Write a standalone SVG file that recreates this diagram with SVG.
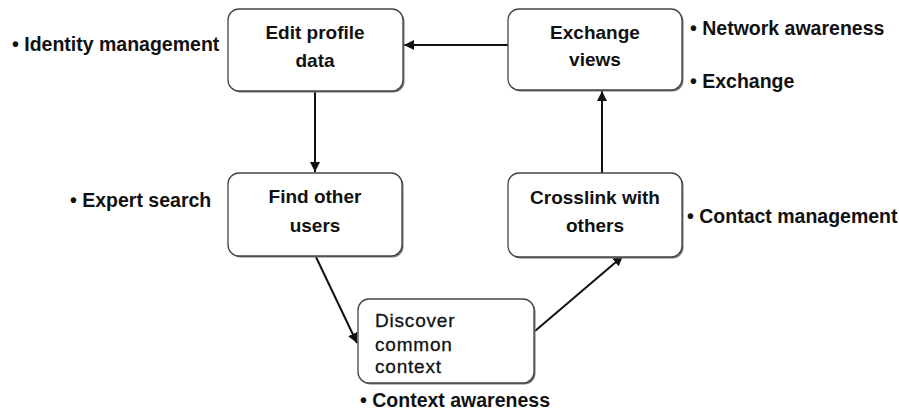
<svg xmlns="http://www.w3.org/2000/svg" width="899" height="412" viewBox="0 0 899 412">
<defs>
<style>
.box{fill:#fff;stroke:#444;stroke-width:1.3}
.shadow{fill:#777}
.lbl{font-family:"Liberation Sans",Arial,sans-serif;font-weight:bold;font-size:19px;fill:#111;text-anchor:middle}
.lbl2{font-family:"Liberation Sans",Arial,sans-serif;font-size:19px;fill:#111;stroke:#111;stroke-width:0.3;letter-spacing:0.8px}
.side{font-family:"Liberation Sans",Arial,sans-serif;font-weight:bold;font-size:19.5px;fill:#111}
.conn{stroke:#111;stroke-width:2;fill:none;marker-end:url(#ah)}
</style>
<marker id="ah" viewBox="0 0 10 10" refX="10" refY="5" markerWidth="5" markerHeight="5" orient="auto" markerUnits="strokeWidth">
<path d="M0,0 L10,5 L0,10 z" fill="#111"/>
</marker>
</defs>
<rect width="899" height="412" fill="#fff"/>
<g id="connectors">
<line class="conn" x1="508" y1="45" x2="404" y2="45"/>
<line class="conn" x1="315" y1="92" x2="315" y2="172"/>
<line class="conn" x1="602" y1="173" x2="602" y2="91"/>
<line class="conn" x1="316" y1="257" x2="357" y2="343"/>
<line class="conn" x1="535" y1="331" x2="623" y2="256"/>
</g>
<g id="edit-profile">
<rect class="shadow" x="229.5" y="10.5" width="175" height="82" rx="11"/>
<rect class="box" x="228" y="9" width="175" height="82" rx="11"/>
<text class="lbl" x="315" y="39">Edit profile</text>
<text class="lbl" x="315" y="67">data</text>
</g>
<g id="exchange-views">
<rect class="shadow" x="509.5" y="10.5" width="174" height="81" rx="11"/>
<rect class="box" x="508" y="9" width="174" height="81" rx="11"/>
<text class="lbl" x="595" y="39">Exchange</text>
<text class="lbl" x="595" y="66">views</text>
</g>
<g id="find-users">
<rect class="shadow" x="229.5" y="174.5" width="174" height="83" rx="11"/>
<rect class="box" x="228" y="173" width="174" height="83" rx="11"/>
<text class="lbl" x="315" y="203">Find other</text>
<text class="lbl" x="315" y="232">users</text>
</g>
<g id="crosslink">
<rect class="shadow" x="509.5" y="174.5" width="174" height="84" rx="11"/>
<rect class="box" x="508" y="173" width="174" height="84" rx="11"/>
<text class="lbl" x="595" y="204">Crosslink with</text>
<text class="lbl" x="595" y="232">others</text>
</g>
<g id="discover">
<rect class="shadow" x="359.5" y="300.5" width="176" height="84" rx="11"/>
<rect class="box" x="358" y="299" width="176" height="84" rx="11"/>
<text class="lbl2" x="375" y="327">Discover</text>
<text class="lbl2" x="375" y="351">common</text>
<text class="lbl2" x="375" y="373">context</text>
</g>
<g id="labels">
<text class="side" x="12" y="51">• Identity management</text>
<text class="side" x="690" y="35">• Network awareness</text>
<text class="side" x="690" y="88">• Exchange</text>
<text class="side" x="70" y="207">• Expert search</text>
<text class="side" x="687" y="223">• Contact management</text>
<text class="side" x="360" y="407">• Context awareness</text>
</g>
</svg>
